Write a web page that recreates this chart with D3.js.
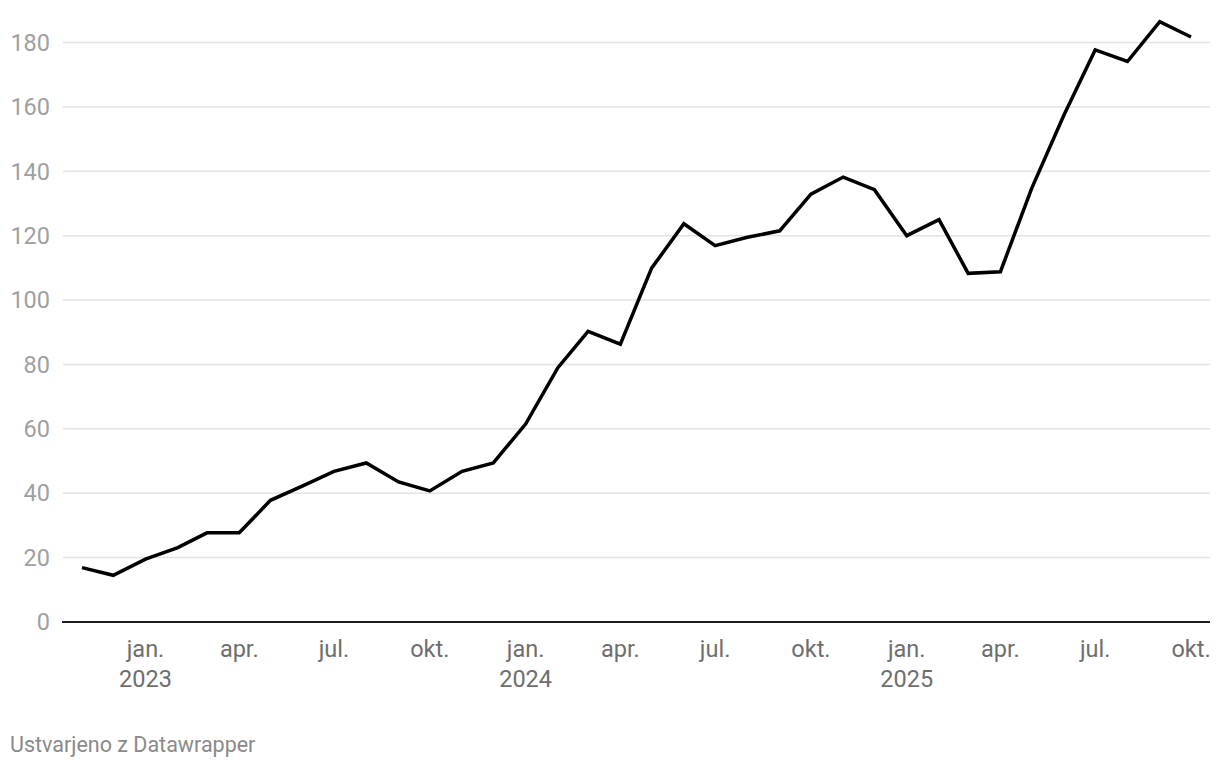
<!DOCTYPE html>
<html>
<head>
<meta charset="utf-8">
<script src="https://cdn.jsdelivr.net/npm/d3@7"></script>
<style>
  body { margin: 0; background: #fff; }
  svg text { font-family: Roboto, "Noto Sans", sans-serif; }
</style>
</head>
<body>
<div id="chart"></div>
<script>
// monthly values, nov. 2022 - okt. 2025
const months = [
  "2022-11", "2022-12",
  "2023-01", "2023-02", "2023-03", "2023-04", "2023-05", "2023-06",
  "2023-07", "2023-08", "2023-09", "2023-10", "2023-11", "2023-12",
  "2024-01", "2024-02", "2024-03", "2024-04", "2024-05", "2024-06",
  "2024-07", "2024-08", "2024-09", "2024-10", "2024-11", "2024-12",
  "2025-01", "2025-02", "2025-03", "2025-04", "2025-05", "2025-06",
  "2025-07", "2025-08", "2025-09", "2025-10"
];
const values = [
  16.9, 14.5,
  19.5, 23.1, 27.7, 27.7, 37.8, 42.3,
  46.8, 49.4, 43.5, 40.7, 46.8, 49.4,
  61.5, 79.0, 90.3, 86.3, 109.9, 123.7,
  116.9, 119.5, 121.5, 132.9, 138.2, 134.3,
  120.0, 125.0, 108.3, 108.8, 134.7, 157.5,
  177.7, 174.1, 186.5, 181.7
];
const yTicks = [0, 20, 40, 60, 80, 100, 120, 140, 160, 180];
const xTicks = ["2023-01", "2023-04", "2023-07", "2023-10",
                "2024-01", "2024-04", "2024-07", "2024-10",
                "2025-01", "2025-04", "2025-07", "2025-10"];
const monthNames = ["jan.", "feb.", "mar.", "apr.", "maj", "jun.",
                    "jul.", "avg.", "sep.", "okt.", "nov.", "dec."];
const footer = "Ustvarjeno z Datawrapper";

const parse = d3.timeParse("%Y-%m");
const data = months.map((m, i) => ({date: parse(m), value: values[i]}));

const width = 1220, height = 768;
const svg = d3.select("#chart").append("svg")
    .attr("width", width)
    .attr("height", height);

const x = d3.scaleTime()
    .domain([data[0].date, data[data.length - 1].date])
    .range([82, 1191]);

const y = d3.scaleLinear()
    .domain([0, 180])
    .range([622, 42.5]);

// grid lines
svg.append("g")
  .selectAll("line")
  .data(yTicks.filter(d => d > 0))
  .join("line")
    .attr("x1", 63)
    .attr("x2", 1210)
    .attr("y1", d => y(d))
    .attr("y2", d => y(d))
    .attr("stroke", "#e3e3e3")
    .attr("stroke-width", 1.5);

// y labels
svg.append("g")
  .selectAll("text")
  .data(yTicks)
  .join("text")
    .attr("x", 50)
    .attr("y", d => y(d))
    .attr("dy", "0.35em")
    .attr("text-anchor", "end")
    .attr("fill", "#a0a0a0")
    .attr("font-size", 23.5)
    .text(d => d);

// baseline
svg.append("line")
    .attr("x1", 62)
    .attr("x2", 1210)
    .attr("y1", y(0))
    .attr("y2", y(0))
    .attr("stroke", "#1d1d1d")
    .attr("stroke-width", 2);

// x labels
const xl = svg.append("g")
  .selectAll("text")
  .data(xTicks.map(parse))
  .join("text")
    .attr("text-anchor", "middle")
    .attr("fill", "#6e6e6e")
    .attr("font-size", 23.5)
    .attr("transform", d => "translate(" + x(d) + ",0)");

xl.append("tspan")
    .attr("x", 0)
    .attr("y", 657)
    .text(d => monthNames[d.getMonth()]);

xl.filter(d => d.getMonth() === 0)
  .append("tspan")
    .attr("x", 0)
    .attr("y", 687)
    .text(d => d.getFullYear());

// line
const line = d3.line()
    .x(d => x(d.date))
    .y(d => y(d.value));

svg.append("path")
    .datum(data)
    .attr("fill", "none")
    .attr("stroke", "#000")
    .attr("stroke-width", 3.5)
    .attr("stroke-linejoin", "miter")
    .attr("d", line);

svg.append("text")
    .attr("x", 10)
    .attr("y", 752)
    .attr("fill", "#8a8a8a")
    .attr("font-size", 21.5)
    .text(footer);
</script>
</body>
</html>
